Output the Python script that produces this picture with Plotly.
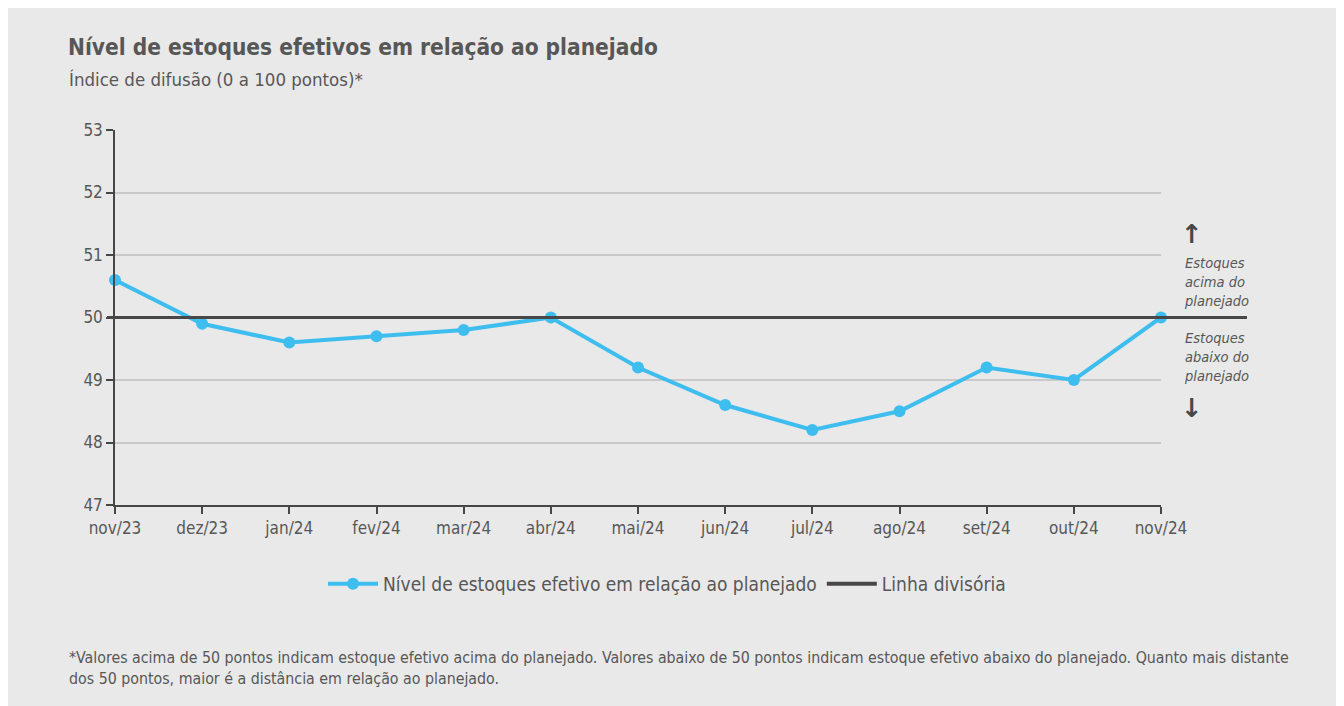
import plotly.graph_objects as go

categories = ["nov/23", "dez/23", "jan/24", "fev/24", "mar/24", "abr/24", "mai/24",
              "jun/24", "jul/24", "ago/24", "set/24", "out/24", "nov/24"]
estoques = [50.6, 49.9, 49.6, 49.7, 49.8, 50.0, 49.2, 48.6, 48.2, 48.5, 49.2, 49.0, 50.0]
linha_divisoria = 50
y_ticks = [47, 48, 49, 50, 51, 52, 53]

FONT = "Liberation Sans Narrow, DejaVu Sans Condensed, Arial Narrow, sans-serif"
TXT = "#575757"
BLUE = "#3ebdef"
DARK = "#474747"
BG = "#e9e9e9"

# page offset (body margin) and plot area in screenshot pixels
OFF = 8
W, H = 1344 - OFF, 706 - OFF
L, R, T, B = 115 - OFF, 1161 - OFF, 130 - OFF, 505 - OFF
def px(x):
    return (x - OFF - L) / (R - L)
def py(y):
    return (B - (y - OFF)) / (B - T)

fig = go.Figure()
fig.add_trace(go.Scatter(
    x=categories, y=estoques, mode="lines+markers",
    name="Nível de estoques efetivo em relação ao planejado",
    line=dict(color=BLUE, width=4), marker=dict(color=BLUE, size=12),
    cliponaxis=False,
))
fig.add_trace(go.Scatter(
    x=[None], y=[None], mode="lines", name="Linha divisória",
    line=dict(color=DARK, width=4),
))

shapes = [
    dict(type="line", xref="paper", yref="y", x0=px(107), x1=px(1247),
         y0=linha_divisoria, y1=linha_divisoria, line=dict(color=DARK, width=3), layer="above"),
]

annotations = [
    dict(text="<b>Nível de estoques efetivos em relação ao planejado</b>", xref="paper", yref="paper",
         x=px(66), y=py(47), xanchor="left", yanchor="middle", showarrow=False,
         font=dict(family=FONT, size=22.5, color=TXT)),
    dict(text="Índice de difusão (0 a 100 pontos)*", xref="paper", yref="paper",
         x=px(67), y=py(79), xanchor="left", yanchor="middle", showarrow=False,
         font=dict(family=FONT, size=18.5, color=TXT)),
    dict(text="<b>↑</b>", xref="paper", yref="paper", x=px(1192), y=py(234),
         xanchor="center", yanchor="middle", showarrow=False,
         font=dict(family="DejaVu Sans", size=26, color=DARK)),
    dict(text="<b>↓</b>", xref="paper", yref="paper", x=px(1192), y=py(408),
         xanchor="center", yanchor="middle", showarrow=False,
         font=dict(family="DejaVu Sans", size=26, color=DARK)),
    dict(text="<i>Estoques<br>acima do<br>planejado</i>", xref="paper", yref="paper",
         x=px(1182), y=py(282), xanchor="left", yanchor="middle", align="left", showarrow=False,
         font=dict(family=FONT, size=14.5, color=TXT)),
    dict(text="<i>Estoques<br>abaixo do<br>planejado</i>", xref="paper", yref="paper",
         x=px(1182), y=py(357), xanchor="left", yanchor="middle", align="left", showarrow=False,
         font=dict(family=FONT, size=14.5, color=TXT)),
    dict(text="*Valores acima de 50 pontos indicam estoque efetivo acima do planejado. Valores abaixo de 50 pontos indicam estoque efetivo abaixo do planejado. Quanto mais distante<br>dos 50 pontos, maior é a distância em relação ao planejado.",
         xref="paper", yref="paper", x=px(67), y=py(668), xanchor="left", yanchor="middle",
         align="left", showarrow=False,
         font=dict(family=FONT, size=15.8, color=TXT)),
]

fig.update_layout(
    width=W, height=H,
    margin=dict(l=L, r=W - R, t=T, b=H - B),
    paper_bgcolor=BG, plot_bgcolor=BG,
    font=dict(family=FONT, color=TXT, size=16),
    showlegend=True,
    legend=dict(orientation="h", x=px(667), xanchor="center", y=py(584), yanchor="middle",
                font=dict(family=FONT, size=19, color=TXT), bgcolor="rgba(0,0,0,0)",
                itemwidth=50, tracegroupgap=20),
    shapes=shapes, annotations=annotations,
)
fig.update_xaxes(
    type="category", range=[0, len(categories) - 1], showgrid=False,
    showline=True, linecolor=DARK, linewidth=1.5,
    ticks="outside", ticklen=7, tickcolor=DARK, tickwidth=1.5,
    tickfont=dict(family=FONT, size=17, color=TXT), zeroline=False,
)
fig.update_yaxes(
    range=[47, 53], tickvals=y_ticks, showgrid=True, gridcolor="#c9c9c9", gridwidth=1.5,
    showline=True, linecolor=DARK, linewidth=1.5,
    ticks="outside", ticklen=7, tickcolor=DARK, tickwidth=1.5,
    tickfont=dict(family=FONT, size=17, color=TXT), zeroline=False,
)

fig.write_html("out.html")
